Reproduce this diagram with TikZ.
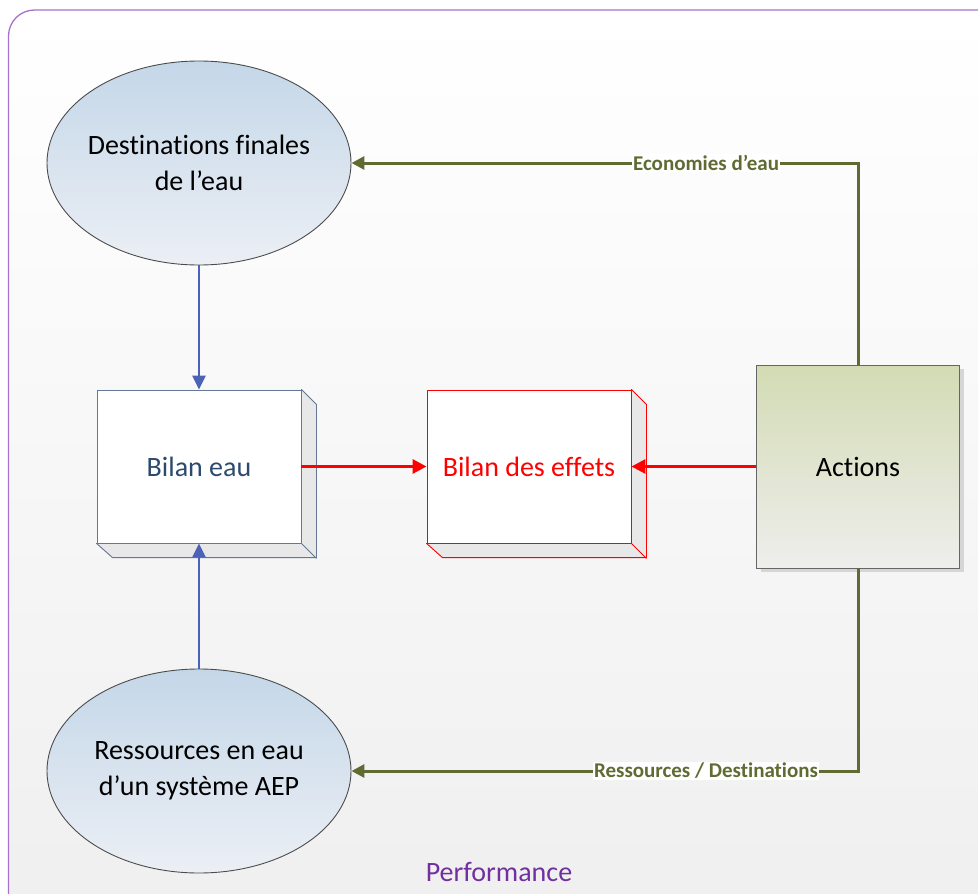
\documentclass[tikz,border=0pt]{standalone}
\usepackage{fontspec}
\setmainfont{Carlito}[Ligatures={NoCommon,NoContextual}]
\usetikzlibrary{arrows.meta,shapes.geometric}
\definecolor{framecol}{RGB}{165,115,205}
\definecolor{bgbot}{RGB}{239,239,239}
\definecolor{perfcol}{RGB}{112,48,160}
\definecolor{bluearr}{RGB}{74,98,184}
\definecolor{bilantext}{RGB}{44,74,110}
\definecolor{bilanborder}{RGB}{100,120,150}
\definecolor{sideface}{RGB}{232,232,232}
\definecolor{greenarr}{RGB}{95,107,50}
\definecolor{acttop}{RGB}{211,219,180}
\definecolor{actbot}{RGB}{238,238,236}
\definecolor{elltop}{RGB}{196,215,232}
\definecolor{ellbot}{RGB}{236,239,245}
\definecolor{redc}{RGB}{255,0,0}
\tikzset{
  bigtext/.style={font=\fontsize{28}{36}\selectfont},
  ellnode/.style={ellipse, draw=black!70, line width=0.9pt, top color=elltop, bottom color=ellbot,
    minimum width=304pt, minimum height=204pt, inner sep=0pt},
  elltext/.style={align=center, bigtext, inner sep=0pt},
  frontface/.style={rectangle, fill=white, line width=0.9pt, minimum width=204pt, minimum height=153pt, inner sep=0pt, bigtext},
  bluearrow/.style={draw=bluearr, line width=2.7pt, -{Triangle[length=14pt,width=13pt]}},
  redarrow/.style={draw=redc, line width=3pt, -{Triangle[length=14pt,width=14pt]}},
  greenarrow/.style={draw=greenarr, line width=3pt, -{Triangle[length=13pt,width=13pt]}},
  greenlabel/.style={fill=white, inner sep=1pt, text=greenarr, font=\fontsize{21}{24}\selectfont\bfseries}
}
\begin{document}
\begin{tikzpicture}[x=1pt,y=-1pt]
\useasboundingbox (0,0) rectangle (978,894);
\begin{scope}
\clip (0,0) rectangle (978,894);
\draw[framecol, line width=1.3pt, rounded corners=26pt, top color=white, bottom color=bgbot] (8.5,10) rectangle (1010,930);
\end{scope}

% ellipses
\node[ellnode] (dest) at (199,163) {};
\node[elltext] (desttext) at (dest.center) {Destinations finales\\de l’eau};
\node[ellnode] (res) at (199,771) {};
\node[elltext] (restext) at (res.center) {Ressources en eau\\d’un système AEP};

% Bilan eau 3D box
\node[frontface, draw=bilanborder, text=bilantext] (be) at (199,466.5) {Bilan eau};
\draw[bilanborder, line width=0.9pt, fill=sideface, line join=round]
  (be.north east) -- ++(15,15) -- ++(0,153) -- ++(-204,0) -- (be.south west) -- (be.south east) -- cycle;
\draw[bilanborder, line width=0.9pt] (be.south east) -- ++(15,15);

% Bilan des effets 3D box
\node[frontface, draw=redc, text=redc] (bf) at (529,466.5) {Bilan des effets};
\draw[redc, line width=0.9pt, fill=sideface, line join=round]
  (bf.north east) -- ++(15,15) -- ++(0,153) -- ++(-204,0) -- (bf.south west) -- (bf.south east) -- cycle;
\draw[redc, line width=0.9pt] (bf.south east) -- ++(15,15);

% Actions
\fill[black!16] (760.5,368.5) rectangle (963.5,571.5);
\node[rectangle, draw=black!60, line width=0.9pt, top color=acttop, bottom color=actbot,
  minimum width=203pt, minimum height=203pt, inner sep=0pt, bigtext] (act) at (858,466.5) {Actions};

% connectors
\draw[bluearrow] (dest.south) -- (be.north);
\draw[bluearrow] (res.north) -- (be.south);
\draw[redarrow] (be.east) -- (bf.west);
\draw[redarrow] (act.west) -- (bf.east);
\draw[greenarrow] (act.north) |- (dest.east) node[pos=0.65, greenlabel] {Economies d’eau};
\draw[greenarrow] (act.south) |- (res.east) node[pos=0.65, greenlabel] {Ressources / Destinations};

\node[text=perfcol, bigtext] (perf) at (499,872) {Performance};
\end{tikzpicture}
\end{document}
